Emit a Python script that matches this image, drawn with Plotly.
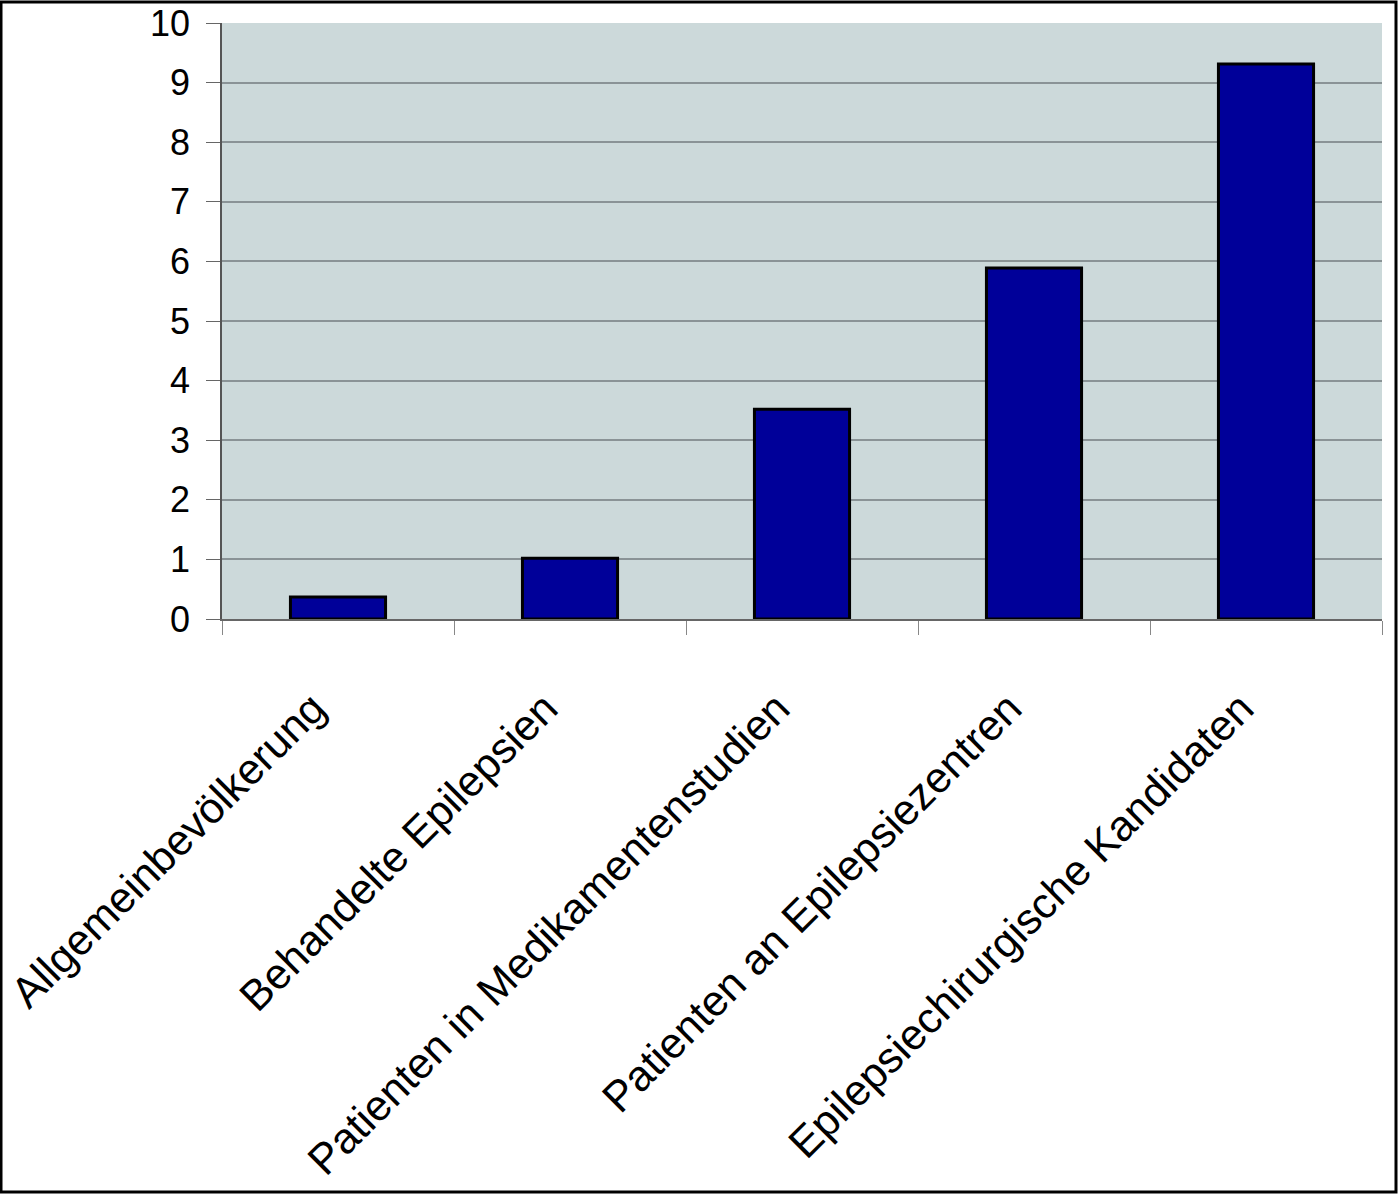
import plotly.graph_objects as go

categories = [
    "Allgemeinbevölkerung",
    "Behandelte Epilepsien",
    "Patienten in Medikamentenstudien",
    "Patienten an Epilepsiezentren",
    "Epilepsiechirurgische Kandidaten",
]
values = [0.37, 1.02, 3.52, 5.89, 9.31]
y_ticks = list(range(0, 11))

fig = go.Figure(
    go.Bar(
        x=categories,
        y=values,
        marker=dict(color="#000099", line=dict(color="#000000", width=3)),
        width=0.41,
    )
)

fig.update_layout(
    width=1399,
    height=1199,
    margin=dict(l=222, r=17, t=23, b=580, autoexpand=False),
    paper_bgcolor="white",
    plot_bgcolor="#CCD9DA",
    showlegend=False,
    font=dict(family="Liberation Sans, Arial, sans-serif", color="black"),
    shapes=[
        dict(
            type="rect", xref="paper", yref="paper",
            x0=-221 / 1160, x1=1 + 14 / 1160, y0=-573 / 596, y1=1 + 21 / 596,
            line=dict(color="black", width=3), fillcolor="rgba(0,0,0,0)",
            layer="above",
        )
    ],
)

fig.update_xaxes(
    type="category",
    automargin=False,
    tickangle=-45,
    tickfont=dict(size=43),
    tickson="boundaries",
    ticks="outside",
    ticklen=14,
    tickcolor="#888888",
    showline=True,
    linecolor="#666666",
    linewidth=1.5,
    showgrid=False,
    ticklabelstandoff=45,
    ticklabelshift=-25,
)

fig.update_yaxes(
    automargin=False,
    range=[0, 10],
    tickvals=y_ticks,
    tickfont=dict(size=36),
    ticks="outside",
    ticklen=14,
    tickcolor="#666666",
    showline=True,
    linecolor="#555555",
    linewidth=1.5,
    gridcolor="#8A9396",
    gridwidth=1.5,
    zeroline=False,
    ticklabelstandoff=9,
)

fig.write_html("out.html")
